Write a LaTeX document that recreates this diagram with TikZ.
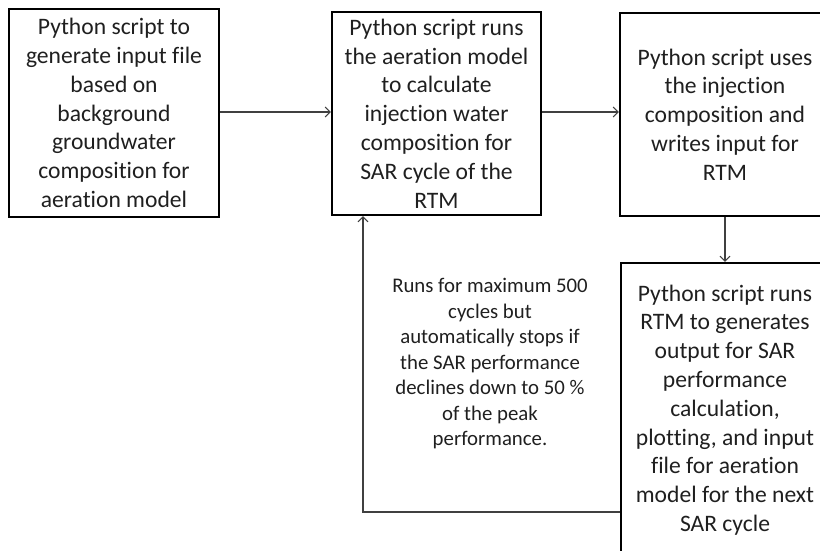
\documentclass[tikz,border=0pt]{standalone}
\usepackage{fontspec}
\setmainfont{Carlito}[Ligatures=NoCommon]
\usetikzlibrary{arrows.meta}
\begin{document}
\begin{tikzpicture}[x=1pt,y=-1pt,
  box/.style={draw=black, line width=2.2pt, align=center, inner sep=0pt,
    font=\fontsize{23.6}{28.8}\selectfont, text=black!88},
  note/.style={align=center, inner sep=0pt, font=\fontsize{20.8}{25.5}\selectfont, text=black!88},
  conn/.style={draw=black!75, line width=1.1pt, -{Straight Barb[length=5pt,width=10pt,line width=1pt]}}]
\useasboundingbox (0,0) rectangle (820,551);
\clip (0,0) rectangle (820,551);
\node[box, minimum width=210pt, minimum height=208pt] (b1) at (114,113)
  {Python script to\\generate input file\\based on\\background\\groundwater\\composition for\\aeration model};
\node[box, minimum width=209pt, minimum height=203pt] (b2) at (436.5,113.5)
  {Python script runs\\the aeration model\\to calculate\\injection water\\composition for\\SAR cycle of the\\RTM};
\node[box, minimum width=210pt, minimum height=203pt] (b3) at (725,114.5)
  {Python script uses\\the injection\\composition and\\writes input for\\RTM};
\node[box, minimum width=208pt, minimum height=294pt] (b4) at (725,410)
  {Python script runs\\RTM to generates\\output for SAR\\performance\\calculation,\\plotting, and input\\file for aeration\\model for the next\\SAR cycle};
\node[note] (n) at (490,364)
  {Runs for maximum 500\\cycles but\\automatically stops if\\the SAR performance\\declines down to 50 \%\\of the peak\\performance.};
\coordinate (fb) at (363,512);
\draw[conn] (b1.east |- 0,112) -- (b2.west |- 0,112);
\draw[conn] (b2.east |- 0,112) -- (b3.west |- 0,112);
\draw[conn] (b3.south) -- (b4.north);
\draw[conn] (fb -| b4.west) -- (fb) -- (fb |- b2.south);
\end{tikzpicture}
\end{document}
